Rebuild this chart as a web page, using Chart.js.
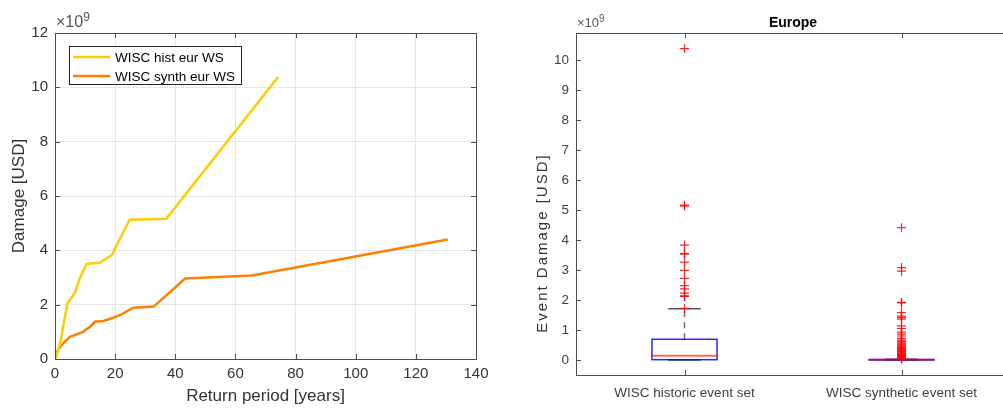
<!DOCTYPE html>
<html>
<head>
<meta charset="utf-8">
<script src="https://cdn.jsdelivr.net/npm/chart.js@4"></script>
<style>
  html, body { margin: 0; padding: 0; background: #fff; overflow: hidden; width: 1003px; height: 408px; }
  #left { position: absolute; left: 0; top: 0; }
  #right { position: absolute; left: 500px; top: 0; }
</style>
</head>
<body>
<canvas id="left" width="500" height="408"></canvas>
<canvas id="right" width="520" height="408"></canvas>
<script>
// --- left chart: return period curves (values x1e9 USD) ---
var histPeriod = [0, 0.5, 1.9, 3.0, 4.2, 4.5, 6.7, 8.1, 10.5, 15.0, 18.9, 24.8, 37.0, 74.2];
var histDamage = [0, 0.1, 0.7, 1.37, 2.07, 2.1, 2.45, 2.94, 3.5, 3.55, 3.83, 5.13, 5.16, 10.38];
var synthPeriod = [0, 0.5, 1.7, 3.3, 5.0, 6.7, 9.4, 10.5, 11.7, 13.3, 16.1, 18.9, 21.7, 26.1, 32.8, 43.3, 65.5, 130.6];
var synthDamage = [0, 0.25, 0.45, 0.64, 0.82, 0.89, 1.0, 1.1, 1.19, 1.37, 1.4, 1.5, 1.62, 1.89, 1.93, 2.96, 3.07, 4.4];
var leftXTicks = [0, 20, 40, 60, 80, 100, 120, 140];
var leftYTicks = [0, 2, 4, 6, 8, 10, 12];

// --- right chart: box plot stats (x1e9 USD) ---
var boxLabels = ['WISC historic event set', 'WISC synthetic event set'];
var boxQ1 = [0.01, 0.0];
var boxMedian = [0.14, 0.005];
var boxQ3 = [0.69, 0.015];
var whiskerLow = [0, 0];
var whiskerHigh = [1.71, 0.025];
var histOutliers = [1.72, 2.12, 2.14, 2.23, 2.37, 2.48, 2.72, 2.99, 3.26, 3.53, 3.55, 3.83, 5.13, 5.16, 10.38];
var synthOutliers = [0.03, 0.05, 0.07, 0.09, 0.11, 0.13, 0.15, 0.17, 0.19, 0.21, 0.23, 0.26, 0.28,
  0.31, 0.33, 0.36, 0.38, 0.41, 0.44, 0.47, 0.5, 0.53, 0.56, 0.6, 0.63, 0.66,
  0.72, 0.8, 0.86, 0.93, 1.05, 1.14, 1.36, 1.41, 1.46, 1.58, 1.9, 1.92, 2.96, 3.08, 4.41];
var rightYTicks = [0, 1, 2, 3, 4, 5, 6, 7, 8, 9, 10];

var FONT = '"Liberation Sans", Arial, sans-serif';
var AXIS = '#4d4d4d';

function toPoints(xs, ys) {
  return xs.map(function(x, i) { return { x: x, y: ys[i] }; });
}
function fixedTicks(list) {
  return function(s) { s.ticks = list.map(function(v) { return { value: v }; }); };
}

// axes frame with inward tick marks (matlab style) + exponent / title text
var frame = {
  id: 'frame',
  afterDraw: function(chart) {
    var a = chart.chartArea, ctx = chart.ctx;
    var xs = chart.scales.x, ys = chart.scales.y;
    var opts = chart.options.plugins.frame;
    ctx.save();
    ctx.strokeStyle = AXIS;
    ctx.lineWidth = 1;
    ctx.strokeRect(a.left + 0.5, a.top + 0.5, a.right - a.left, a.bottom - a.top);
    ctx.beginPath();
    xs.ticks.forEach(function(t) {
      var px = Math.round(xs.getPixelForValue(t.value)) + 0.5;
      ctx.moveTo(px, a.bottom); ctx.lineTo(px, a.bottom - 5);
      ctx.moveTo(px, a.top); ctx.lineTo(px, a.top + 5);
    });
    ys.ticks.forEach(function(t) {
      var py = Math.round(ys.getPixelForValue(t.value)) + 0.5;
      ctx.moveTo(a.left, py); ctx.lineTo(a.left + 5, py);
      ctx.moveTo(a.right, py); ctx.lineTo(a.right - 5, py);
    });
    ctx.stroke();
    // exponent label
    var sz = opts.size;
    ctx.fillStyle = '#555';
    ctx.font = sz + 'px ' + FONT;
    ctx.textBaseline = 'alphabetic';
    ctx.fillText('\u00d710', a.left + 1, a.top - 6);
    var w = ctx.measureText('\u00d710').width;
    ctx.font = Math.round(sz * 0.75) + 'px ' + FONT;
    ctx.fillText('9', a.left + 1 + w, a.top - 6 - sz * 0.4);
    if (opts.title) {
      ctx.fillStyle = '#000';
      ctx.font = 'bold 14px ' + FONT;
      ctx.textAlign = 'center';
      ctx.fillText(opts.title, (a.left + a.right) / 2, a.top - 6);
    }
    if (opts.yTitle) {
      ctx.translate(a.left - 33, a.top + 210);
      ctx.rotate(-Math.PI / 2);
      ctx.fillStyle = '#333';
      ctx.font = '15px ' + FONT;
      ctx.letterSpacing = '2px';
      ctx.textAlign = 'center';
      ctx.textBaseline = 'middle';
      ctx.fillText(opts.yTitle, 0, 0);
    }
    ctx.restore();
  }
};

// legend box inside the axes
var insideLegend = {
  id: 'insideLegend',
  afterDraw: function(chart) {
    var a = chart.chartArea, ctx = chart.ctx;
    var x = a.left + 14, y = a.top + 13;
    ctx.save();
    ctx.fillStyle = '#fff';
    ctx.fillRect(x, y, 172, 38);
    ctx.strokeStyle = '#262626';
    ctx.lineWidth = 1;
    ctx.strokeRect(x + 0.5, y + 0.5, 172, 38);
    ctx.font = '13.5px ' + FONT;
    ctx.textBaseline = 'middle';
    chart.data.datasets.forEach(function(ds, i) {
      var ly = y + 11 + i * 19;
      ctx.strokeStyle = ds.borderColor;
      ctx.lineWidth = 2.5;
      ctx.beginPath();
      ctx.moveTo(x + 4, ly); ctx.lineTo(x + 41, ly);
      ctx.stroke();
      ctx.fillStyle = '#000';
      ctx.fillText(ds.label, x + 46, ly + 1);
    });
    ctx.restore();
  }
};

new Chart(document.getElementById('left').getContext('2d'), {
  type: 'line',
  data: {
    datasets: [{
      label: 'WISC hist eur WS',
      data: toPoints(histPeriod, histDamage),
      borderColor: '#ffcc00',
      borderWidth: 2.5,
      pointRadius: 0,
      tension: 0
    }, {
      label: 'WISC synth eur WS',
      data: toPoints(synthPeriod, synthDamage),
      borderColor: '#ff7f00',
      borderWidth: 2.5,
      pointRadius: 0,
      tension: 0
    }]
  },
  options: {
    responsive: false,
    animation: false,
    layout: { padding: { top: 33, right: 24, left: 0, bottom: 0 } },
    plugins: {
      legend: { display: false },
      tooltip: { enabled: false },
      frame: { size: 16 }
    },
    scales: {
      x: {
        type: 'linear',
        min: 0, max: 140,
        afterBuildTicks: fixedTicks(leftXTicks),
        afterFit: function(s) { s.height = 49; },
        grid: { color: '#e6e6e6', drawTicks: false },
        border: { display: false },
        ticks: { color: '#333', font: { family: FONT, size: 15 }, padding: 6, maxRotation: 0 },
        title: { display: true, text: 'Return period [years]', color: '#333',
                 font: { family: FONT, size: 17 }, padding: { top: 0, bottom: 1 } }
      },
      y: {
        min: 0, max: 12,
        afterBuildTicks: fixedTicks(leftYTicks),
        afterFit: function(s) { s.width = 55; },
        grid: { color: '#e6e6e6', drawTicks: false },
        border: { display: false },
        ticks: { color: '#333', font: { family: FONT, size: 15 }, padding: 7 },
        title: { display: true, text: 'Damage [USD]', color: '#333',
                 font: { family: FONT, size: 17 }, padding: { top: 9, bottom: 0 } }
      }
    }
  },
  plugins: [frame, insideLegend]
});

// box, median, whiskers and caps
var boxes = {
  id: 'boxes',
  beforeDatasetsDraw: function(chart) {
    var ctx = chart.ctx, xs = chart.scales.x, ys = chart.scales.y;
    ctx.save();
    boxLabels.forEach(function(_, i) {
      var c = i + 1;
      var l = xs.getPixelForValue(c - 0.15), r = xs.getPixelForValue(c + 0.15);
      var cl = xs.getPixelForValue(c - 0.075), cr = xs.getPixelForValue(c + 0.075);
      var cx = xs.getPixelForValue(c);
      var q1 = ys.getPixelForValue(boxQ1[i]), q3 = ys.getPixelForValue(boxQ3[i]);
      var md = ys.getPixelForValue(boxMedian[i]);
      var lo = ys.getPixelForValue(whiskerLow[i]), hi = ys.getPixelForValue(whiskerHigh[i]);
      // whiskers
      ctx.strokeStyle = '#707070';
      ctx.lineWidth = 1.5;
      ctx.setLineDash([6, 5]);
      ctx.beginPath();
      ctx.moveTo(cx, q3); ctx.lineTo(cx, hi);
      ctx.moveTo(cx, q1); ctx.lineTo(cx, lo);
      ctx.stroke();
      ctx.setLineDash([]);
      ctx.strokeStyle = '#555';
      ctx.beginPath();
      ctx.moveTo(cl, hi); ctx.lineTo(cr, hi);
      ctx.moveTo(cl, lo); ctx.lineTo(cr, lo);
      ctx.stroke();
      // box
      ctx.strokeStyle = 'rgba(0,0,255,0.85)';
      ctx.lineWidth = 1.5;
      ctx.strokeRect(l, q3, r - l, q1 - q3);
      // median
      ctx.strokeStyle = 'rgba(255,0,0,0.6)';
      ctx.lineWidth = 2;
      ctx.beginPath();
      ctx.moveTo(l, md); ctx.lineTo(r, md);
      ctx.stroke();
    });
    ctx.restore();
  }
};

function outlierPoints(group, values) {
  return values.map(function(v) { return { x: group, y: v }; });
}

new Chart(document.getElementById('right').getContext('2d'), {
  type: 'scatter',
  data: {
    datasets: [{
      data: outlierPoints(1, histOutliers),
      pointStyle: 'cross', pointRadius: 4.5, borderColor: 'rgba(255,0,0,0.85)', borderWidth: 1.2
    }, {
      data: outlierPoints(2, synthOutliers),
      pointStyle: 'cross', pointRadius: 4.5, borderColor: 'rgba(255,0,0,0.85)', borderWidth: 1.2
    }]
  },
  options: {
    responsive: false,
    animation: false,
    layout: { padding: { top: 33, right: 10, left: 0, bottom: 0 } },
    plugins: {
      legend: { display: false },
      tooltip: { enabled: false },
      frame: { size: 13, title: 'Europe', yTitle: 'Event Damage [USD]' }
    },
    scales: {
      x: {
        type: 'linear',
        min: 0.5, max: 2.5,
        afterBuildTicks: fixedTicks([1, 2]),
        afterFit: function(s) { s.height = 33; },
        grid: { display: false, drawTicks: false },
        border: { display: false },
        ticks: {
          color: '#404040', font: { family: FONT, size: 13.5 }, padding: 10, maxRotation: 0, autoSkip: false,
          callback: function(v) { return boxLabels[v - 1]; }
        }
      },
      y: {
        min: -0.5, max: 10.9,
        afterBuildTicks: fixedTicks(rightYTicks),
        afterFit: function(s) { s.width = 76; },
        grid: { display: false, drawTicks: false },
        border: { display: false },
        ticks: { color: '#404040', font: { family: FONT, size: 13.5 }, padding: 7 }
      }
    }
  },
  plugins: [boxes, frame]
});
</script>
</body>
</html>
